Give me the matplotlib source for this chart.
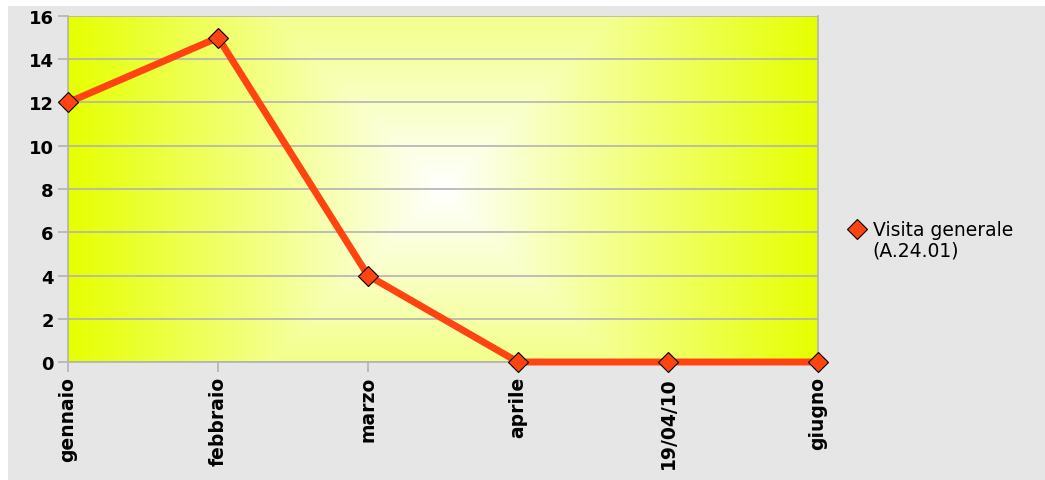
import numpy as np
import matplotlib.pyplot as plt
from matplotlib.lines import Line2D
from matplotlib.patches import Rectangle

mesi = ['gennaio', 'febbraio', 'marzo', 'aprile', '19/04/10', 'giugno']
visite = [12, 15, 4, 0, 0, 0]
etichetta = ['Visita generale', '(A.24.01)']

fig = plt.figure(figsize=(10.45, 4.81), dpi=100, facecolor='white')
# riquadro grigio (bordo bianco sopra e a sinistra)
fig.patches.append(Rectangle((8 / 1045, 0), 1037 / 1045, 474 / 481,
                             transform=fig.transFigure, facecolor='#e6e6e6',
                             edgecolor='none', zorder=-10))

ax = fig.add_axes([0.0651, 0.2453, 0.7177, 0.7194])
ax.set_facecolor('none')

x = np.arange(len(mesi))
ax.set_xlim(0, len(mesi) - 1)
ax.set_ylim(0, 16)

# gradiente rettangolare: bianco al centro, giallo ai bordi (in pixel)
w, h = 750, 346
U, V = np.meshgrid(np.linspace(-w / 2, w / 2, w), np.linspace(-h / 2, h / 2, h))
t = np.maximum(np.abs(U), np.abs(V)) / (w / 2)
bianco = np.array([1.0, 1.0, 1.0])
giallo = np.array([0.90, 1.0, 0.0])
img = bianco * (1 - t[..., None]) + giallo * t[..., None]
ax.imshow(img, extent=[0, len(mesi) - 1, 0, 16], aspect='auto', zorder=0,
          interpolation='nearest')

ax.set_yticks(range(0, 17, 2))
ax.grid(axis='y', color='#b3b3b3', linewidth=1.2, zorder=1)
ax.spines['top'].set_visible(False)
for s in ['left', 'bottom', 'right']:
    ax.spines[s].set_color('#b3b3b3')
    ax.spines[s].set_linewidth(1.2)
    ax.spines[s].set_zorder(1)

ax.plot(x, visite, color='#ff4411', linewidth=5, marker='D', markersize=10,
        markerfacecolor='#ff4411', markeredgecolor='#000000',
        markeredgewidth=0.8, zorder=3, clip_on=False)

ax.set_xticks(x)
ax.set_xticklabels(mesi, rotation=90, fontweight='bold', fontsize=13.5)
for lab in ax.get_yticklabels():
    lab.set_fontweight('bold')
    lab.set_fontsize(13)
ax.tick_params(axis='both', color='#b3b3b3', length=7.2, width=1.2, pad=3)

handle = Line2D([], [], color='none', marker='D', markersize=10,
                markerfacecolor='#ff4411', markeredgecolor='#000000',
                markeredgewidth=0.8)
vuoto = Line2D([], [], color='none')
fig.legend([handle, vuoto], etichetta, loc='upper left',
           bbox_to_anchor=(0.811, 0.540), frameon=False, fontsize=13.5,
           handletextpad=0.35, handlelength=1.0, labelspacing=0.05,
           borderpad=0, borderaxespad=0)

plt.savefig('out.png', dpi=100, facecolor=fig.get_facecolor())
